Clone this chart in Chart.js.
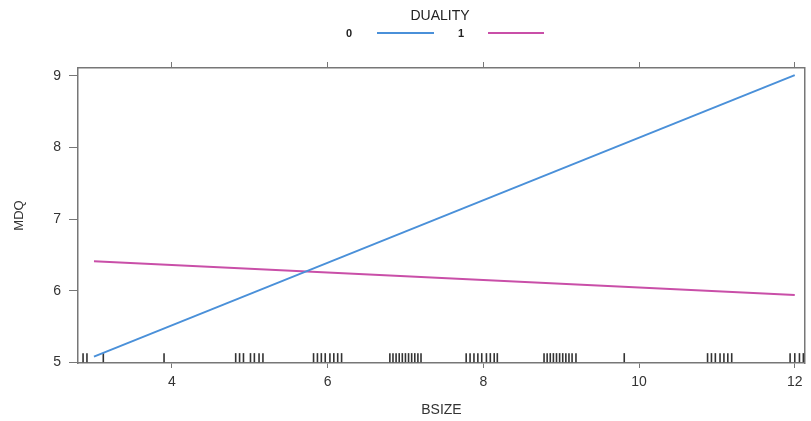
<!DOCTYPE html>
<html>
<head>
<meta charset="utf-8">
<script src="https://cdn.jsdelivr.net/npm/chart.js@4/dist/chart.umd.min.js"></script>
<style>
  html, body { margin: 0; padding: 0; background: #fff; }
  #wrap { width: 811px; height: 421px; }
</style>
</head>
<body>
<div id="wrap"><canvas id="c" width="811" height="421"></canvas></div>
<script>
// ---- data ----
const legendTitle = "DUALITY";
const seriesNames = ["0", "1"];
const lineX = [3, 12];
const dual0 = [5.08, 9.01];
const dual1 = [6.41, 5.94];
const xTicks = [4, 6, 8, 10, 12];
const yTicks = [5, 6, 7, 8, 9];
const rugBSIZE = [
  2.86, 2.91, 3.12, 3.90,
  4.82, 4.87, 4.92, 5.01, 5.06, 5.12, 5.17,
  5.82, 5.87, 5.92, 5.97, 6.03, 6.08, 6.13, 6.18,
  6.80, 6.84, 6.88, 6.92, 6.96, 7.00, 7.04, 7.08, 7.12, 7.16, 7.20,
  7.78, 7.83, 7.88, 7.93, 7.98, 8.04, 8.09, 8.14, 8.18,
  8.78, 8.82, 8.86, 8.90, 8.94, 8.98, 9.02, 9.06, 9.10, 9.14, 9.19,
  9.81,
  10.88, 10.93, 10.98, 11.04, 11.09, 11.14, 11.19,
  11.94, 12.00, 12.06, 12.11
];

const blue = "#4a90d9";
const magenta = "#c94fa8";
const axisCol = "#777777";
const FONT = "'Liberation Sans', Arial, sans-serif";

const xMin = 2.795, xMax = 12.13, yMin = 4.99, yMax = 9.11;

function noPad(s) { s.paddingLeft = 0; s.paddingRight = 0; s.paddingTop = 0; s.paddingBottom = 0; }

const legendPlugin = {
  id: 'latticeLegend',
  afterDraw(chart) {
    const ctx = chart.ctx;
    ctx.save();
    ctx.fillStyle = "#222";
    ctx.textBaseline = "middle";
    ctx.textAlign = "center";
    ctx.font = "14px " + FONT;
    ctx.fillText(legendTitle, 440, 16);
    ctx.font = "bold 11px " + FONT;
    const items = [
      {label: seriesNames[0], tx: 349, x0: 377, x1: 434, col: blue},
      {label: seriesNames[1], tx: 461, x0: 488, x1: 544, col: magenta}
    ];
    items.forEach(it => {
      ctx.fillStyle = "#222";
      ctx.fillText(it.label, it.tx, 34);
      ctx.strokeStyle = it.col;
      ctx.lineWidth = 2;
      ctx.beginPath();
      ctx.moveTo(it.x0, 33);
      ctx.lineTo(it.x1, 33);
      ctx.stroke();
    });
    ctx.restore();
  }
};

new Chart(document.getElementById('c'), {
  type: 'scatter',
  data: {
    datasets: [
      {
        type: 'line',
        label: seriesNames[0],
        data: lineX.map((x, i) => ({x: x, y: dual0[i]})),
        borderColor: blue, borderWidth: 2, pointRadius: 0, fill: false, tension: 0
      },
      {
        type: 'line',
        label: seriesNames[1],
        data: lineX.map((x, i) => ({x: x, y: dual1[i]})),
        borderColor: magenta, borderWidth: 2, pointRadius: 0, fill: false, tension: 0
      },
      {
        label: 'rug',
        data: rugBSIZE.map(x => ({x: x, y: yMin + 0.075})),
        pointStyle: 'line', rotation: 90, pointRadius: 4.5,
        borderColor: "#333", borderWidth: 1.6, backgroundColor: "#333",
        clip: false
      }
    ]
  },
  options: {
    responsive: false,
    animation: false,
    events: [],
    layout: { padding: { left: 12, right: -5, top: 0, bottom: 2 } },
    plugins: { legend: { display: false }, tooltip: { enabled: false } },
    scales: {
      x: {
        type: 'linear', position: 'bottom', min: xMin, max: xMax,
        afterBuildTicks: s => { s.ticks = xTicks.map(v => ({value: v})); },
        afterFit: s => { s.height = 56; noPad(s); },
        grid: { drawOnChartArea: false, drawTicks: true, tickLength: 5, color: axisCol },
        border: { display: true, color: axisCol, width: 1.5 },
        ticks: { color: "#333", font: { family: FONT, size: 14 }, padding: 6, maxRotation: 0 },
        title: { display: true, text: "BSIZE", color: "#333", font: { family: FONT, size: 14 }, padding: 0 }
      },
      x2: {
        type: 'linear', position: 'top', min: xMin, max: xMax,
        afterBuildTicks: s => { s.ticks = xTicks.map(v => ({value: v})); },
        afterFit: s => { s.height = 68; noPad(s); },
        grid: { drawOnChartArea: false, drawTicks: true, tickLength: 6, color: axisCol },
        border: { display: true, color: axisCol, width: 1.5 },
        ticks: { display: false }
      },
      y: {
        type: 'linear', position: 'left', min: yMin, max: yMax,
        afterBuildTicks: s => { s.ticks = yTicks.map(v => ({value: v})); },
        afterFit: s => { s.width = 66; noPad(s); },
        grid: { drawOnChartArea: false, drawTicks: true, tickLength: 9, color: axisCol },
        border: { display: true, color: axisCol, width: 1.5 },
        ticks: { color: "#333", font: { family: FONT, size: 14 }, padding: 8 },
        title: { display: true, text: "MDQ", color: "#333", font: { family: FONT, size: 13 }, padding: 0 }
      },
      y2: {
        type: 'linear', position: 'right', min: yMin, max: yMax,
        afterFit: s => { s.width = 1; noPad(s); },
        grid: { drawOnChartArea: false, drawTicks: false, color: axisCol },
        border: { display: true, color: axisCol, width: 1.5 },
        ticks: { display: false }
      }
    }
  },
  plugins: [legendPlugin]
});
</script>
</body>
</html>
